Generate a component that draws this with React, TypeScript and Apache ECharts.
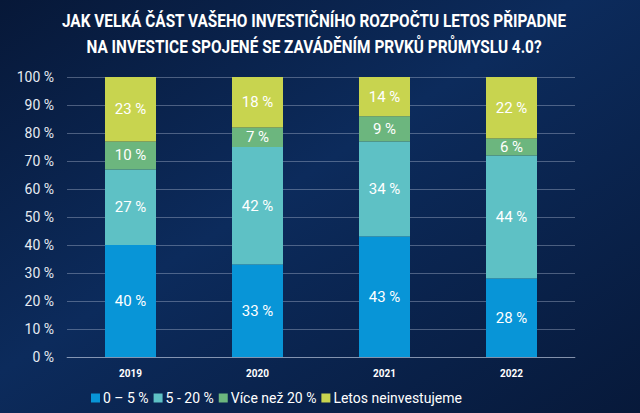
import React, { useEffect, useRef } from "react";
import * as echarts from "echarts";

const years = ["2019", "2020", "2021", "2022"];
const low = [40, 33, 43, 28];
const mid = [27, 42, 34, 44];
const high = [10, 7, 9, 6];
const none = [23, 18, 14, 22];
const seriesNames = ["0 – 5 %", "5 - 20 %", "Více než 20 %", "Letos neinvestujeme"];
const colors = ["#0895d7", "#5ec1c5", "#6cb67e", "#c8d44f"];
const yTicks = [0, 10, 20, 30, 40, 50, 60, 70, 80, 90, 100];
const titleLines = [
  "JAK VELKÁ ČÁST VAŠEHO INVESTIČNÍHO ROZPOČTU LETOS PŘIPADNE",
  "NA INVESTICE SPOJENÉ SE ZAVÁDĚNÍM PRVKŮ PRŮMYSLU 4.0?",
];

export default function App() {
  const ref = useRef<HTMLDivElement>(null);
  useEffect(() => {
    const chart = echarts.init(ref.current!, undefined, { renderer: "svg" });
    const data = [low, mid, high, none];
    chart.setOption({
      animation: false,
      backgroundColor: new echarts.graphic.LinearGradient(0, 0, 1, 1, [
        { offset: 0, color: "#071838" },
        { offset: 0.45, color: "#0c2b5c" },
        { offset: 1, color: "#07193a" },
      ]),
      graphic: titleLines.map((t, i) => ({
        type: "text",
        x: 314,
        y: 21 + i * 26,
        scaleX: 0.855,
        style: {
          text: t,
          fill: "#ffffff",
          fontFamily: "Roboto, sans-serif",
          fontWeight: "bold",
          fontSize: 18,
          textAlign: "center",
          textVerticalAlign: "middle",
        },
      })),
      legend: {
        data: seriesNames,
        left: 86,
        top: 386,
        itemWidth: 9,
        itemHeight: 9,
        itemGap: 5,
        icon: "rect",
        textStyle: { color: "#ffffff", fontSize: 14, fontFamily: "Roboto, sans-serif", padding: [0, 0, 0, -2] },
      },
      grid: { left: 67, right: 65, top: 77, bottom: 56 },
      xAxis: {
        type: "category",
        data: years,
        axisTick: { show: false },
        axisLine: { lineStyle: { color: "rgba(200,210,230,0.45)", width: 1 } },
        axisLabel: { color: "#ffffff", fontWeight: "bold", fontSize: 10, margin: 11, fontFamily: "Roboto, sans-serif" },
      },
      yAxis: {
        type: "value",
        min: 0,
        max: 100,
        interval: 10,
        axisLabel: {
          color: "#e6ebf2",
          fontSize: 14,
          margin: 13,
          fontFamily: "Roboto, sans-serif",
          formatter: (v: number) => (yTicks.includes(v) ? v + " %" : ""),
        },
        axisLine: { show: false },
        axisTick: { show: false },
        splitLine: { lineStyle: { color: "rgba(200,210,230,0.35)", width: 1 } },
      },
      series: seriesNames.map((name, i) => ({
        name,
        type: "bar",
        stack: "total",
        barWidth: 51,
        data: data[i],
        itemStyle: { color: colors[i] },
        label: {
          show: true,
          position: "inside",
          color: "#ffffff",
          fontSize: 15,
          fontFamily: "Roboto, sans-serif",
          formatter: (p: any) => p.value + " %",
        },
      })),
    });
    return () => chart.dispose();
  }, []);
  return <div ref={ref} style={{ width: 640, height: 413, position: "absolute", left: 0, top: 0 }} />;
}
